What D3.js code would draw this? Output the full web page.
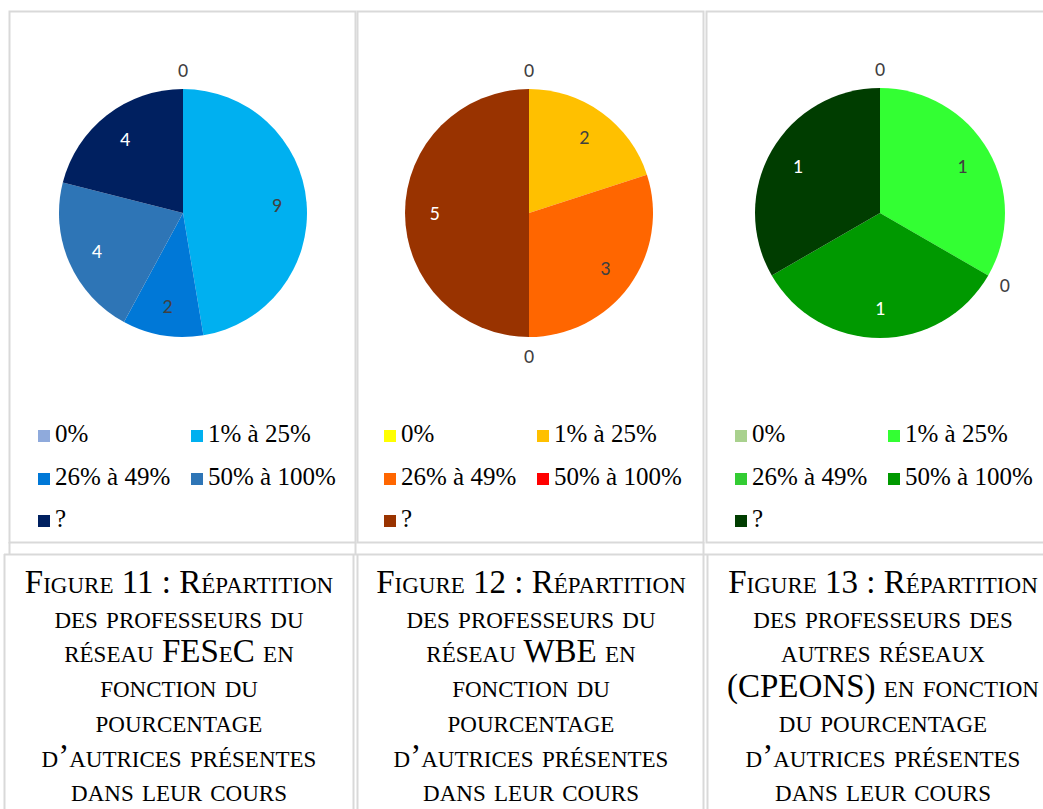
<!DOCTYPE html>
<html>
<head>
<meta charset="utf-8">
<script src="https://cdn.jsdelivr.net/npm/d3@7"></script>
</head>
<body style="margin:0;background:#fff">
<svg width="1043" height="809"></svg>
<script>
// categories shared by the three pies
var categories = ["0%", "1% à 25%", "26% à 49%", "50% à 100%", "?"];

// counts per category
var fesecValues = [0, 9, 2, 4, 4];
var wbeValues   = [0, 2, 3, 0, 5];
var autresValues = [0, 1, 0, 1, 1];

var fesecColors  = ["#8faadc", "#00b0f0", "#0078d7", "#2e75b6", "#002060"];
var wbeColors    = ["#ffff00", "#ffc000", "#ff6600", "#ff0000", "#993300"];
var autresColors = ["#a9d18e", "#33ff33", "#33cc33", "#009900", "#003d00"];

// label colour inside each slice (dark on light slices)
var fesecText  = ["#404040", "#404040", "#404040", "#fff", "#fff"];
var wbeText    = ["#404040", "#404040", "#404040", "#fff", "#fff"];
var autresText = ["#404040", "#404040", "#fff", "#fff", "#fff"];

var fesecCaption = ["Figure 11 : Répartition", "des professeurs du", "réseau FESeC en",
  "fonction du", "pourcentage", "d\u2019autrices présentes", "dans leur cours"];
var wbeCaption = ["Figure 12 : Répartition", "des professeurs du", "réseau WBE en",
  "fonction du", "pourcentage", "d\u2019autrices présentes", "dans leur cours"];
var autresCaption = ["Figure 13 : Répartition", "des professeurs des", "autres réseaux",
  "(CPEONS) en fonction", "du pourcentage", "d\u2019autrices présentes", "dans leur cours"];

var svg = d3.select("svg");
var grid = "#d9d9d9";
var serif = "Liberation Serif";

// table grid
var cells = [
  {x0: 9, x1: 355, cx: 183, cap: 179},
  {x0: 357, x1: 703, cx: 529, cap: 531},
  {x0: 706, x1: 1060, cx: 880, cap: 883}
];
var g0 = svg.append("g").attr("fill", "none").attr("stroke", grid).attr("stroke-width", 2);
cells.forEach(function(c) {
  g0.append("rect").attr("x", c.x0 + 0.5).attr("y", 11.5).attr("width", c.x1 - c.x0).attr("height", 531);
});
g0.append("line").attr("x1", 9.5).attr("x2", 9.5).attr("y1", 542).attr("y2", 554);
g0.append("line").attr("x1", 355.5).attr("x2", 355.5).attr("y1", 542).attr("y2", 554);
g0.append("line").attr("x1", 703.5).attr("x2", 703.5).attr("y1", 542).attr("y2", 554);
g0.append("line").attr("x1", 4).attr("x2", 1043).attr("y1", 554.5).attr("y2", 554.5);
[4.5, 353.5, 357.5, 703.5, 707.5].forEach(function(x) {
  g0.append("line").attr("x1", x).attr("x2", x).attr("y1", 554).attr("y2", 809);
});

function drawPie(values, colors, textColors, cx, cy, r) {
  var pie = d3.pie().sort(null).value(function(d) { return d; });
  var arcs = pie(values);
  var arc = d3.arc().innerRadius(0).outerRadius(r);
  var g = svg.append("g").attr("transform", "translate(" + cx + "," + cy + ")");

  g.selectAll("path")
    .data(arcs.filter(function(d) { return d.data > 0; }))
    .enter().append("path")
      .attr("d", arc)
      .attr("fill", function(d) { return colors[d.index]; });

  g.selectAll("text")
    .data(arcs)
    .enter().append("text")
      .style("font-family", "Carlito")
      .style("font-size", "20px")
      .attr("text-anchor", "middle")
      .attr("dy", "0.35em")
      .attr("fill", function(d) { return d.data > 0 ? textColors[d.index] : "#404040"; })
      .attr("transform", function(d) {
        var a = (d.startAngle + d.endAngle) / 2;
        var rr = d.data > 0 ? r * 0.76 : r + 19;
        return "translate(" + (Math.sin(a) * rr) + "," + (-Math.cos(a) * rr) + ")";
      })
      .text(function(d) { return d.data; });

  // legend, two columns
  var lg = svg.append("g");
  var rowsY = [430, 473, 515];
  categories.forEach(function(name, i) {
    var lx = cx - 145 + (i % 2) * 153,
        ly = rowsY[Math.floor(i / 2)];
    lg.append("rect").attr("x", lx).attr("y", ly).attr("width", 12).attr("height", 12).attr("fill", colors[i]);
    lg.append("text").attr("x", lx + 17).attr("y", ly + 12)
      .style("font-family", serif).style("font-size", "25px").attr("fill", "#000")
      .text(name);
  });
}

function drawCaption(lines, x) {
  var t = svg.append("text")
    .style("font-family", serif).style("font-size", "33px").style("font-variant", "small-caps")
    .attr("fill", "#000").attr("text-anchor", "middle");
  lines.forEach(function(l, i) {
    t.append("tspan").attr("x", x).attr("y", 593 + i * 34.7).text(l);
  });
}

drawPie(fesecValues, fesecColors, fesecText, 183, 213, 124);
drawPie(wbeValues, wbeColors, wbeText, 529, 213, 124);
drawPie(autresValues, autresColors, autresText, 880, 213, 125);

drawCaption(fesecCaption, cells[0].cap);
drawCaption(wbeCaption, cells[1].cap);
drawCaption(autresCaption, cells[2].cap);
</script>
</body>
</html>
